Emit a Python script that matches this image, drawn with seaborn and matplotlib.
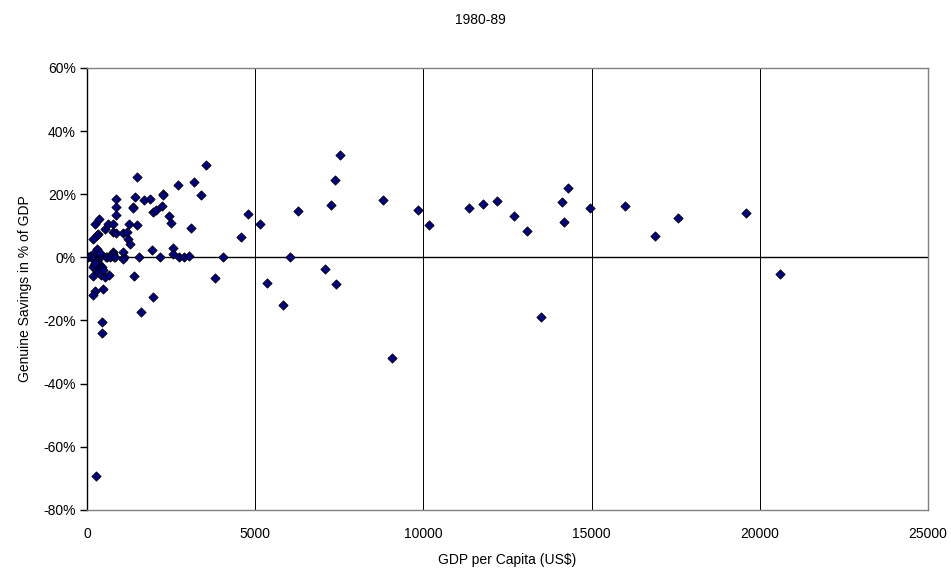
import numpy as np
import pandas as pd
import matplotlib
matplotlib.use("Agg")
import matplotlib.pyplot as plt
from matplotlib.ticker import FuncFormatter, MultipleLocator
import seaborn as sns

# GDP per capita (US$) and genuine savings (% of GDP)
gdp_per_capita = [
    20, 100, 150, 200, 250, 300, 350, 400, 300, 200, 250, 350, 450, 400,
    595, 790, 1090, 1080, 1080, 169, 238, 288, 188, 336, 407, 485, 535, 664,
    238, 188, 466, 436, 436, 268,
    3528, 1496, 3190, 2715, 3398, 2269, 2269, 862, 1427, 1704, 1882, 862,
    1358, 1358, 2220, 1953, 2051, 862, 2438, 2488, 238, 357, 336, 288, 169,
    535, 615, 782, 1258, 1496, 3083, 782, 862, 1080, 1180, 1229, 1278, 1923,
    2567, 2567, 763, 782, 565, 684, 832, 1555, 2170, 2744, 2883, 3032, 3814,
    1397, 1953, 1596,
    7372, 8790, 7243, 6272, 4795, 5143, 4587, 4034, 6025, 7075, 5360, 7393,
    5817, 9057, 7530,
    9848, 10166, 11346, 11781, 12188, 12684, 13070, 14120, 14290, 14170,
    13486, 14962, 16002, 16875, 17577, 19590, 20600,
]
genuine_savings = [
    0.0, 0.5, -0.3, 0.2, 1.8, 2.6, 0.8, 0.0, -1.0, -2.5, -3.5, -2.0, -3.0, 1.5,
    0.0, 0.0, 0.0, 1.7, -0.6, -3.1, -1.9, -4.0, -5.9, -4.7, -5.6, -4.0, -6.3, -5.6,
    -10.5, -11.9, -9.9, -20.6, -24.0, -69.2,
    29.2, 25.5, 23.8, 22.9, 19.7, 20.2, 19.9, 18.5, 19.2, 18.1, 18.4, 16.0,
    16.1, 15.6, 16.4, 14.5, 14.9, 13.5, 13.1, 10.9, 10.6, 12.1, 7.4, 7.1, 5.9,
    9.0, 10.5, 10.5, 10.5, 10.3, 9.2, 8.1, 7.6, 7.8, 8.0, 5.8, 4.3, 2.3,
    2.9, 1.2, 1.7, 1.2, 0.0, 0.0, 0.0, 0.0, 0.0, 0.0, 0.0, 0.5, -6.6,
    -6.0, -12.6, -17.4,
    24.5, 18.2, 16.6, 14.7, 13.7, 10.5, 6.6, 0.0, 0.0, -3.8, -8.2, -8.5,
    -15.2, -32.0, 32.3,
    14.9, 10.2, 15.7, 17.0, 17.9, 13.0, 8.4, 17.5, 21.9, 11.2,
    -18.8, 15.6, 16.3, 6.9, 12.5, 14.1, -5.2,
]

df = pd.DataFrame({"gdp": gdp_per_capita, "savings": genuine_savings})

sns.set_style("white")
plt.rcParams["font.family"] = ["Liberation Sans", "DejaVu Sans"]
plt.rcParams["text.color"] = "black"
plt.rcParams["axes.labelcolor"] = "black"
plt.rcParams["xtick.color"] = "black"
plt.rcParams["ytick.color"] = "black"

fig = plt.figure(figsize=(9.51, 5.71), dpi=100)
ax = fig.add_axes([0.0915, 0.107, 0.8843, 0.774])

for xv in [5000, 10000, 15000, 20000]:
    ax.axvline(xv, color="black", lw=0.7, zorder=1)
ax.axhline(0, color="black", lw=1.0, zorder=1)

sns.scatterplot(data=df, x="gdp", y="savings", marker="D", s=22,
                color="#000080", edgecolor="black", linewidth=0.6,
                zorder=3, ax=ax)

ax.set_xlim(0, 25000)
ax.set_ylim(-80, 60)
ax.xaxis.set_major_locator(MultipleLocator(5000))
ax.yaxis.set_major_locator(MultipleLocator(20))
ax.yaxis.set_major_formatter(FuncFormatter(lambda v, p: f"{v:.0f}%"))

for side in ["top", "right", "bottom"]:
    ax.spines[side].set_color("#808080")
    ax.spines[side].set_linewidth(1.0)
ax.spines["left"].set_color("black")
ax.spines["left"].set_linewidth(1.0)

ax.tick_params(axis="y", direction="out", length=5, width=1, color="black",
               labelsize=10, pad=3, left=True)
ax.tick_params(axis="x", length=0, labelsize=10, pad=12)

ax.set_xlabel("GDP per Capita (US$)", fontsize=10, labelpad=9)
ax.set_ylabel("Genuine Savings in % of GDP", fontsize=10, labelpad=8)
fig.text(0.505, 0.965, "1980-89", ha="center", va="center", fontsize=10)

fig.savefig("out.png", dpi=100)
